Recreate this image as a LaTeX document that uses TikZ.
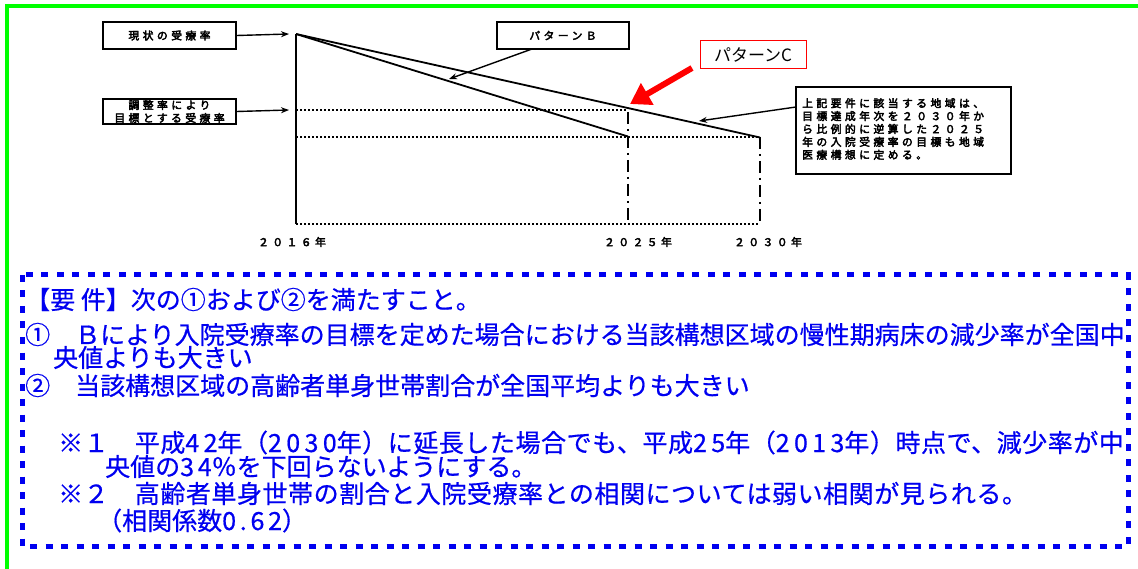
\documentclass[tikz,border=0pt]{standalone}
\usepackage{fontspec}
\usetikzlibrary{arrows.meta}
\newfontfamily\cjk[FakeBold=0.6]{Noto Sans CJK JP}
\newfontfamily\cjkw[LetterSpace=2.2,FakeBold=0.6]{Noto Sans CJK JP}
\newfontfamily\cjkd[LetterSpace=15,FakeBold=0.6]{Noto Sans CJK JP}
\newfontfamily\cjkdw[LetterSpace=17.5,FakeBold=0.6]{Noto Sans CJK JP}
\newfontfamily\cjkspb[LetterSpace=32,FakeBold=3.5]{Noto Sans CJK JP}
\newcommand{\dg}[1]{{\cjkd #1}}
\newcommand{\dgw}[1]{{\cjkdw #1}}
\definecolor{gbord}{RGB}{0,255,0}
\definecolor{tblue}{RGB}{0,0,240}
\begin{document}
\begin{tikzpicture}[x=1pt,y=-1pt,
  bbox/.style={draw, line width=1.6pt, inner sep=0pt, font=\cjkspb\fontsize{10.8}{13}\selectfont, align=center},
  sarr/.style={-{Stealth[length=8pt,width=6pt]}, line width=1.4pt},
  redarr/.style={-{Triangle[length=20pt,width=24pt]}, line width=6pt, red},
  dotl/.style={line width=1.4pt, dash pattern=on 1.5pt off 2.5pt},
  dashdotl/.style={line width=1.8pt, dash pattern=on 12pt off 5pt on 2pt off 5pt},
  solidl/.style={line width=1.8pt},
  yr/.style={font=\cjkspb\fontsize{10.8}{13}\selectfont, inner sep=0pt},
  btxt/.style={text=tblue, font=\cjk\fontsize{25}{25}\selectfont, anchor=base west, inner sep=0pt},
  btxtw/.style={btxt, font=\cjkw\fontsize{25}{25}\selectfont},
]
\useasboundingbox (0,0) rectangle (1138,569);
% green frame
\draw[gbord, line width=3.5pt] (5,5.8) -- (1138,5.8);
\draw[gbord, line width=3.5pt] (6.8,4) -- (6.8,569);

% chart coordinates
\coordinate (top) at (296,34);
\coordinate (bot) at (296,224);
\coordinate (b25) at (628,136.5);
\coordinate (c30) at (760,137.5);
\coordinate (u25) at (628,110);
\coordinate (ul) at (296,110);
\coordinate (ll) at (296,137);
\coordinate (l30) at (760,137);
\coordinate (bot25) at (628,224);
\coordinate (bot30) at (760,224);
\coordinate (ut25) at (628,112);

\draw[solidl] (top) -- (bot);
\draw[solidl] (top) -- (b25);
\draw[solidl] (top) -- (c30);
\draw[dotl] (ul) -- (u25);
\draw[dotl] (ll) -- (l30);
\draw[dotl] (bot) -- (bot30);
\draw[dashdotl] (ut25) -- (bot25);
\draw[dashdotl] (l30) -- (bot30);

% boxes
\node[bbox, minimum width=133pt, minimum height=27pt] (b1) at (169.5,35.5) {現状の受療率};
\node[bbox, minimum width=133pt, minimum height=25pt] (b2) at (169.5,111.5) {調整率により\\目標とする受療率};
\node[bbox, minimum width=132pt, minimum height=27pt] (bB) at (563,35.5) {パターンＢ};
\node[draw=red, line width=1pt, minimum width=106pt, minimum height=28pt, inner sep=0pt,
      font=\fontspec{Noto Sans CJK JP}\fontsize{17}{17}\selectfont] (bC) at (753,55) {パターンC};
\node[draw, line width=1.6pt, minimum width=215pt, minimum height=87pt, inner sep=0pt] (bR) at (903.5,130.5) {};
\node[anchor=north west, inner sep=0pt, align=left, font=\cjkspb\fontsize{10.8}{12.9}\selectfont] (tR) at (802,98)
  {上記要件に該当する地域は、\\目標達成年次を２０３０年か\\ら比例的に逆算した２０２５\\年の入院受療率の目標も地域\\医療構想に定める。};

% arrows
\coordinate (t1) at (289,34);
\coordinate (t2) at (289,110);
\draw[sarr] (b1.east) -- (t1);
\draw[sarr] (b2.east) -- (t2);
\coordinate (bBs) at (532,49);
\coordinate (bBt) at (449,79);
\draw[sarr] (bBs) -- (bBt);
\coordinate (rRs) at (796,107);
\coordinate (rRt) at (699,121);
\draw[sarr] (rRs) -- (rRt);
\coordinate (rCs) at (692,68);
\coordinate (rCt) at (630,104);
\draw[redarr] (rCs) -- (rCt);

% year labels
\node[yr] (y16) at (292,242) {２０１６年};
\node[yr] (y25) at (638,242) {２０２５年};
\node[yr] (y30) at (768,242) {２０３０年};

% blue dotted frame
\draw[tblue, line width=5pt, dash pattern=on 7pt off 8.5pt] (22,275) rectangle (1128,546);

% blue text
\node[btxt] (l1) at (25,309) {【要 件】次の①および②を満たすこと。};
\node[btxt] (l2) at (25,344) {①　Ｂにより入院受療率の目標を定めた場合における当該構想区域の慢性期病床の減少率が全国中};
\node[btxt] (l3) at (53,367) {央値よりも大きい};
\node[btxt] (l4) at (25,395) {②　当該構想区域の高齢者単身世帯割合が全国平均よりも大きい};
\node[btxtw] (l5) at (58,452) {※１　平成\dgw{42}年（\dgw{2030}年）に延長した場合でも、平成\dgw{25}年（\dgw{2013}年）時点で、減少率が中};
\node[btxt] (l6) at (105,476) {央値の\dg{34}％を下回らないようにする。};
\node[btxtw] (l7) at (58,503) {※２　高齢者単身世帯の割合と入院受療率との相関については弱い相関が見られる。};
\node[btxt] (l8) at (97,530) {（相関係数\dg{0.62}）};
\end{tikzpicture}
\end{document}
